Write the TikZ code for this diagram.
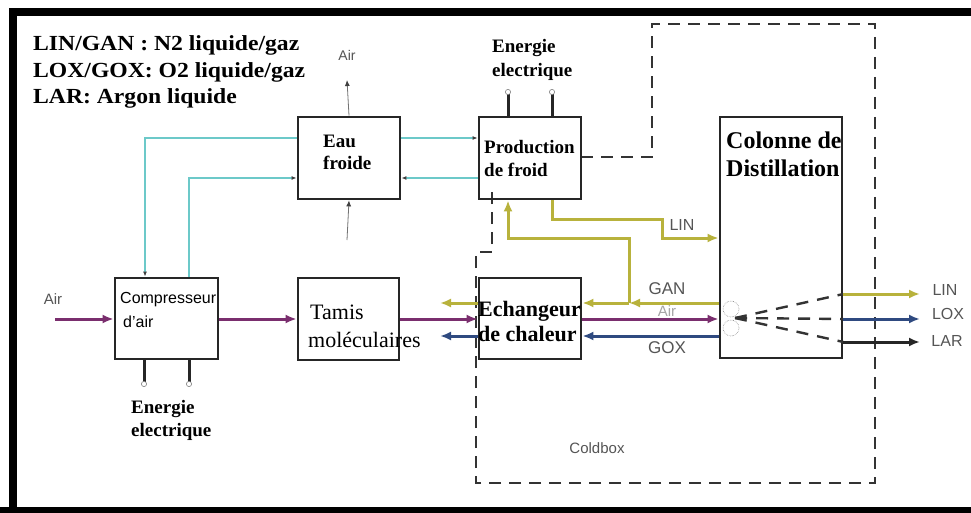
\documentclass[tikz,border=0pt]{standalone}
\usepackage{fontspec}
\setmainfont{Liberation Serif}
\setsansfont{Liberation Sans}
\newfontfamily\legfont[FakeStretch=1.1]{Liberation Serif}
\usetikzlibrary{arrows.meta}
\definecolor{purp}{HTML}{7A2E6E}
\definecolor{yel}{HTML}{B8B23C}
\definecolor{blu}{HTML}{2F4A80}
\definecolor{cyn}{HTML}{6CC9C9}
\definecolor{lbl}{HTML}{555555}
\tikzset{
  blk/.style={draw=black!85, line width=2.8pt, fill=white, inner sep=0pt},
  legend/.style={font=\legfont\fontsize{21.5}{25}\selectfont\bfseries, anchor=west, inner sep=0pt},
  btxt/.style={font=\fontsize{19}{22}\selectfont\bfseries, anchor=west, inner sep=0pt},
  bigtxt/.style={font=\fontsize{22}{26}\selectfont\bfseries, anchor=west, inner sep=0pt},
  coltxt/.style={font=\fontsize{24}{28}\selectfont\bfseries, anchor=west, inner sep=0pt},
  tamtxt/.style={font=\fontsize{22}{26}\selectfont, anchor=west, inner sep=0pt},
  sanstxt/.style={font=\sffamily\fontsize{16}{19}\selectfont, anchor=west, inner sep=0pt},
  small/.style={font=\sffamily\fontsize{16}{19}\selectfont, text=lbl, inner sep=0pt},
  tiny/.style={font=\sffamily\fontsize{14}{17}\selectfont, text=lbl, inner sep=0pt},
  big arrow/.style={-{Latex[length=11pt,width=9pt]}},
  purpline/.style={draw=purp, line width=3pt, big arrow},
  yelline/.style={draw=yel, line width=3pt, big arrow},
  blueline/.style={draw=blu, line width=3pt, big arrow},
  blackline/.style={draw=black!85, line width=3pt, big arrow},
  cyanline/.style={draw=cyn, line width=1.6pt, -{Latex[length=5pt,width=4pt,color=black!75]}},
  grayline/.style={draw=black!55, line width=0.8pt, -{Latex[length=6pt,width=5pt,color=black!75]}},
  pinline/.style={draw=black!85, line width=3pt},
  pinhead/.style={draw=black!50, fill=white, line width=0.6pt},
  coldbox/.style={draw=black!80, line width=2.6pt, dash pattern=on 12pt off 8pt},
  coldash/.style={draw=black!80, line width=2.4pt, dash pattern=on 12pt off 9pt},
}
\begin{document}
\begin{tikzpicture}[x=1pt,y=-1pt]
\useasboundingbox (0,0) rectangle (971,513);
\clip (0,0) rectangle (971,513);
\fill[white] (0,0) rectangle (971,513);
% frame
\draw[line width=8pt] (12.5,530) -- (12.5,12) -- (990,12);
\draw[line width=7pt] (0,510.5) -- (990,510.5);

% legend
\node[legend] (lg1) at (33,45) {LIN/GAN : N2 liquide/gaz};
\node[legend] (lg2) at (33,72) {LOX/GOX: O2 liquide/gaz};
\node[legend] (lg3) at (33,98) {LAR: Argon liquide};

% coldbox
\draw[coldbox] (581,157) -- (652,157) -- (652,24) -- (875,24) -- (875,483) -- (476,483) -- (476,252) -- (492,252) -- (492,188);
\node[small, font=\sffamily\fontsize{15}{18}\selectfont] (cb) at (597,448) {Coldbox};

% boxes
\node[blk, minimum width=102pt, minimum height=82pt] (eau) at (349,158) {};
\node[blk, minimum width=102pt, minimum height=82pt, fill=none] (prod) at (530,158) {};
\node[blk, minimum width=103pt, minimum height=81pt] (comp) at (166.5,318.5) {};
\node[blk, minimum width=101pt, minimum height=82pt] (tamis) at (348.5,319) {};
\node[blk, minimum width=102pt, minimum height=81pt] (ech) at (530,318.5) {};
\node[blk, minimum width=122pt, minimum height=241pt] (col) at (781,237.5) {};

% box texts
\node[btxt] (t1) at (323,141) {Eau};
\node[btxt] (t2) at (323,163) {froide};
\node[btxt] (t3) at (484,147) {Production};
\node[btxt] (t4) at (484,170) {de froid};
\node[sanstxt] (t5) at (120,300) {Compresseur};
\node[sanstxt] (t6) at (123,322) {d'air};
\node[tamtxt] (t7) at (310,312) {Tamis};
\node[tamtxt] (t8) at (308,340) {moléculaires};
\node[bigtxt] (t9) at (478,311) {Echangeur};
\node[bigtxt] (t10) at (478,334) {de chaleur};
\node[coltxt] (t11) at (726,140) {Colonne de};
\node[coltxt] (t12) at (726,168) {Distillation};

% energie labels
\node[btxt] (e1) at (492,48) {Energie};
\node[btxt] (e2) at (492,72) {electrique};
\node[btxt] (e3) at (131,409) {Energie};
\node[btxt] (e4) at (131,432) {electrique};

% pins
\coordinate (pp1) at (508,92);
\coordinate (pp2) at (552,92);
\coordinate (cp1) at (144,384);
\coordinate (cp2) at (189,384);
\draw[pinline] (prod.north -| pp1) -- (pp1);
\draw[pinline] (prod.north -| pp2) -- (pp2);
\draw[pinline] (comp.south -| cp1) -- (cp1);
\draw[pinline] (comp.south -| cp2) -- (cp2);
\foreach \p in {pp1,pp2,cp1,cp2} \draw[pinhead] (\p) circle (2.6pt);

% air to/from eau froide
\node[tiny] (airtop) at (347,55) {Air};
\coordinate (airtopend) at (347,80);
\coordinate (airbot) at (347,240);
\draw[grayline] (eau.north) -- (airtopend);
\draw[grayline] (airbot) -- (eau.south);

% cyan water loops
\draw[cyanline] (eau.west |- 0,138) -| (comp.north -| 145,0);
\draw[cyanline] (comp.north -| 189,0) |- (eau.west |- 0,178);
\draw[cyanline] (eau.east |- 0,138) -- (prod.west |- 0,138);
\draw[cyanline] (prod.west |- 0,178) -- (eau.east |- 0,178);

% air (purple)
\node[small, font=\sffamily\fontsize{15}{18}\selectfont] (airleft) at (53,299) {Air};
\coordinate (airin) at (55,319);
\draw[purpline] (airin) -- (comp.west |- 0,319);
\draw[purpline] (comp.east |- 0,319) -- (tamis.west |- 0,319);
\draw[purpline] (tamis.east |- 0,319) -- (ech.west |- 0,319);
\draw[purpline] (ech.east |- 0,319) -- (col.west |- 0,319);
\node[small, text=black!35, font=\sffamily\fontsize{15}{18}\selectfont] (airmid) at (667,311) {Air};

% GAN (yellow)
\coordinate (gj) at (629,303);
\coordinate (gout) at (440,303);
\draw[yelline] (col.west |- 0,303) -- (gj);
\draw[yelline] (gj) -- (ech.east |- 0,303);
\draw[yelline] (gj) |- (508,238) -- (prod.south -| 508,0);
\draw[yelline] (ech.west |- 0,303) -- (gout);
\node[small, font=\sffamily\fontsize{17}{20}\selectfont] (gan) at (667,289) {GAN};

% LIN (yellow)
\draw[yelline] (prod.south -| 552,0) |- (662,219) |- (col.west |- 0,238);
\node[small] (lin) at (682,225) {LIN};

% GOX (blue)
\coordinate (xout) at (440,336);
\draw[blueline] (col.west |- 0,336) -- (ech.east |- 0,336);
\draw[blueline] (ech.west |- 0,336) -- (xout);
\node[small, font=\sffamily\fontsize{17}{20}\selectfont] (gox) at (667,348) {GOX};

% inside column
\coordinate (fan) at (735,318);
\draw[densely dotted, black!45, line width=0.6pt] (731,309) circle (8pt);
\draw[densely dotted, black!45, line width=0.6pt] (731,328) circle (8pt);
\draw[coldash] (fan) -- (col.east |- 0,294);
\draw[coldash] (fan) -- (col.east |- 0,319);
\draw[coldash] (fan) -- (col.east |- 0,342);

% outputs
\coordinate (olin) at (920,294);
\coordinate (olox) at (920,319);
\coordinate (olar) at (920,342);
\draw[yelline] (col.east |- 0,294) -- (olin);
\draw[blueline] (col.east |- 0,319) -- (olox);
\draw[blackline] (col.east |- 0,342) -- (olar);
\node[small] (linr) at (945,290) {LIN};
\node[small] (loxr) at (948,314) {LOX};
\node[small] (larr) at (947,341) {LAR};
\end{tikzpicture}
\end{document}
